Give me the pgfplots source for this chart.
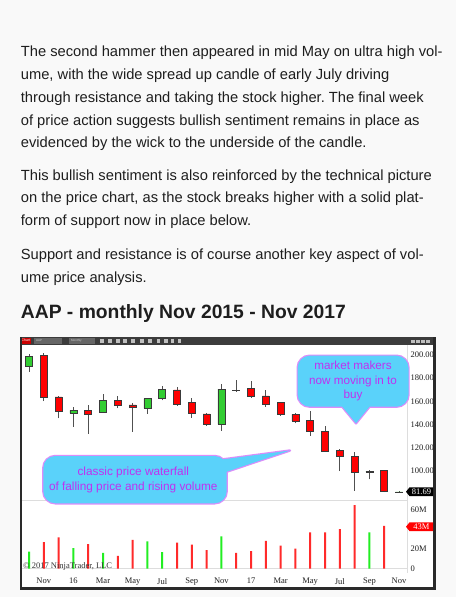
\documentclass[border=0pt]{standalone}
\usepackage{pgfplots}
\pgfplotsset{compat=1.18}
\usepackage{pgfplotstable}
\usepackage{fontspec}
\setmainfont{Liberation Sans}
\newfontfamily\serif{Liberation Serif}
\frenchspacing
\definecolor{pagebg}{HTML}{F9F9F9}
\definecolor{txt}{HTML}{1E1E1E}
\definecolor{candred}{HTML}{FF0000}
\definecolor{candgreen}{HTML}{32CD32}
\definecolor{candedge}{HTML}{3A3A3A}
\definecolor{wick}{HTML}{505050}
\definecolor{volred}{HTML}{FF2A2A}
\definecolor{volgreen}{HTML}{22EE22}
\definecolor{callfill}{HTML}{5AD2FA}
\definecolor{calledge}{HTML}{DC8CFA}
\definecolor{calltext}{HTML}{C030F0}
\definecolor{toolbar}{HTML}{3C3C3C}
\definecolor{framec}{HTML}{2A2A2A}
\definecolor{gridgray}{HTML}{DDDDDD}

% monthly candles, x = month index (0 = Oct 2015 ... 25 = Nov 2017)
\pgfplotstableread{
x o h l c
0 190.5 200.6 185.6 199.1
1 199.4 201.4 160.2 163.1
2 163.7 164.6 145.3 151.0
3 149.6 155.1 138.0 152.2
4 152.2 156.5 132.0 148.7
5 150.1 166.0 150.0 160.8
6 160.8 164.6 153.9 156.2
7 156.8 158.2 133.7 154.5
8 153.9 162.5 149.0 162.2
9 162.6 173.2 160.8 170.4
10 169.8 172.3 156.2 157.0
11 158.8 162.8 145.8 149.3
12 149.0 149.9 139.0 140.4
13 140.1 174.7 134.6 170.4
14 169.4 178.4 168.3 169.0
15 171.2 177.8 163.1 164.6
16 164.6 169.8 155.4 157.4
17 159.1 159.5 147.3 148.7
18 148.7 149.9 141.0 143.0
19 143.5 151.6 130.0 134.3
20 134.3 138.6 116.4 117.0
21 117.9 119.0 99.7 112.7
22 112.1 115.9 82.7 98.8
23 99.0 101.0 92.5 99.5
24 100.5 100.8 81.5 82.0
25 81.5 82.5 81.0 81.69
}\candles

\pgfplotstableread{
x v
1 27
2 32
4 25
6 13
7 29.5
10 26.6
11 24.5
12 19
14 16
15 18
16 28.5
17 23.5
18 20.4
19 37
20 37
21 40.5
22 65
24 43.8
}\redvol

\pgfplotstableread{
x v
0 17.5
3 21
5 16
8 28
9 17
13 33
23 37
}\greenvol

\pgfplotsset{
  chartgeom/.style={
    anchor=north west, width=385pt, scale only axis,
    xmin=-0.473, xmax=25.54,
    axis line style={draw=none}, major tick length=0pt,
    /pgf/number format/assume math mode=true,
    ticklabel style={font=\serif\fontsize{8.5}{9}\selectfont, text=txt},
  },
}

\begin{document}
\begin{tikzpicture}
\useasboundingbox (0,0) rectangle (456pt,-597pt);
\fill[pagebg] (0,0) rectangle (456pt,-597pt);

% ---- article text ----
\begin{scope}[every node/.style={anchor=base west, inner sep=0pt, text=txt, font=\fontsize{14.7}{15}\selectfont}]
\node at (20.7pt,-56.7pt) {The second hammer then appeared in mid May on ultra high vol-};
\node at (20.7pt,-79.5pt) {ume, with the wide spread up candle of early July driving};
\node at (20.7pt,-102.3pt) {through resistance and taking the stock higher. The final week};
\node at (20.7pt,-125.1pt) {of price action suggests bullish sentiment remains in place as};
\node at (20.7pt,-147.9pt) {evidenced by the wick to the underside of the candle.};
\node at (20.7pt,-180pt) {This bullish sentiment is also reinforced by the technical picture};
\node at (20.7pt,-202.8pt) {on the price chart, as the stock breaks higher with a solid plat-};
\node at (20.7pt,-225.6pt) {form of support now in place below.};
\node at (20.7pt,-259.5pt) {Support and resistance is of course another key aspect of vol-};
\node at (20.7pt,-282.3pt) {ume price analysis.};
\end{scope}
\node[anchor=base west, inner sep=0pt, text=txt, font=\bfseries\fontsize{19.3}{20}\selectfont] at (20.7pt,-318pt) {AAP - monthly Nov 2015 - Nov 2017};

% ---- chart frame ----
\fill[white] (21pt,-337pt) rectangle (434pt,-588pt);
\fill[toolbar] (20pt,-336.5pt) rectangle (436pt,-345pt);
\fill[red!80!black] (21pt,-337.5pt) rectangle (31pt,-343.5pt);
\node[font=\fontsize{3.5}{4}\selectfont, text=white, inner sep=0pt] at (26pt,-340.5pt) {Chart};
\fill[black!60] (34pt,-338pt) rectangle (62pt,-343.5pt);
\node[font=\fontsize{3}{4}\selectfont, text=white!80!black, inner sep=0pt, anchor=west] at (36pt,-340.7pt) {AAP};
\fill[black!60] (69pt,-338pt) rectangle (95pt,-343.5pt);
\node[font=\fontsize{3}{4}\selectfont, text=white!80!black, inner sep=0pt, anchor=west] at (71pt,-340.7pt) {Monthly};
\foreach \ix in {101.7,110,117.7,125,133,141.7,150,158.3,165.7,172.3,179.3}
  \fill[black!25] (\ix pt-1.8pt,-339pt) rectangle (\ix pt+1.8pt,-342.6pt);
\foreach \ix in {413,418,423,428}
  \fill[black!25] (\ix pt-1.8pt,-339.5pt) rectangle (\ix pt+1.8pt,-342.5pt);
\fill[framec] (20pt,-336.5pt) rectangle (22pt,-590pt);
\fill[framec] (433pt,-336.5pt) rectangle (436pt,-590pt);
\fill[framec] (20pt,-587pt) rectangle (436pt,-590pt);

\draw[gridgray, line width=0.8pt] (22pt,-500.7pt) -- (407pt,-500.7pt);
\draw[gridgray, line width=0.7pt] (22pt,-568.6pt) -- (407pt,-568.6pt);
\draw[gridgray, line width=0.7pt] (407pt,-345pt) -- (407pt,-573pt);

% ---- price panel: wicks ----
\begin{axis}[chartgeom, at={(22pt,-345pt)}, height=155.7pt,
  ymin=74.1, ymax=208.6, xtick=\empty,
  ytick={100,120,...,200}, yticklabel pos=right,
  yticklabel={\pgfmathprintnumber[fixed,fixed zerofill,precision=2]{\tick}}]
\addplot[draw=none, mark=none,
  error bars/.cd, y dir=plus, y explicit, error mark=none,
  error bar style={draw=wick, line width=0.9pt}]
  table[x=x, y=l, y error plus expr=\thisrow{h}-\thisrow{l}] {\candles};
\end{axis}
% ---- price panel: bodies ----
\begin{axis}[chartgeom, at={(22pt,-345pt)}, height=155.7pt,
  ymin=74.1, ymax=208.6, hide axis, ybar stacked, bar width=7pt]
\addplot[draw=none, fill=none] table[x=x, y expr={min(\thisrow{o},\thisrow{c})}] {\candles};
\addplot[fill=candred, draw=candedge, line width=0.7pt] table[x=x, y expr={max(\thisrow{o}-\thisrow{c},0)}] {\candles};
\addplot[fill=candgreen, draw=candedge, line width=0.7pt] table[x=x, y expr={max(\thisrow{c}-\thisrow{o},0)}] {\candles};
\end{axis}

% ---- volume panel ----
\begin{axis}[chartgeom, at={(22pt,-500.7pt)}, height=67.9pt,
  ymin=0, ymax=69.5, ybar, bar width=2pt,
  xtick={1,3,...,25},
  xticklabels={Nov,16,Mar,May,Jul,Sep,Nov,17,Mar,May,Jul,Sep,Nov},
  xticklabel style={yshift=-6pt},
  ytick={0,20,60}, yticklabels={0,20M,60M}, yticklabel pos=right]
\addplot[fill=volred, draw=none, bar shift=0pt] table[x=x, y=v] {\redvol};
\addplot[fill=volgreen, draw=none, bar shift=0pt] table[x=x, y=v] {\greenvol};
\end{axis}

% ---- last price and volume flags ----
\fill[black] (406pt,-491.7pt) -- (409.5pt,-487.3pt) -- (433pt,-487.3pt) -- (433pt,-496.1pt) -- (409.5pt,-496.1pt) -- cycle;
\node[font=\serif\fontsize{8.5}{9}\selectfont, text=white, inner sep=0pt] at (421.5pt,-491.9pt) {81.69};
\fill[red] (406pt,-526.7pt) -- (409.5pt,-522.3pt) -- (433pt,-522.3pt) -- (433pt,-531.1pt) -- (409.5pt,-531.1pt) -- cycle;
\node[font=\serif\fontsize{8.5}{9}\selectfont, text=white, inner sep=0pt] at (421.5pt,-526.9pt) {43M};

\node[anchor=west, inner sep=0pt, font=\serif\fontsize{8.5}{9}\selectfont, text=black!80] at (23pt,-566.8pt) {© 2017 NinjaTrader, LLC};

% ---- callouts ----
\filldraw[fill=callfill, draw=calledge, line width=2.4pt, line join=round]
  (340pt,-404pt) -- (356pt,-423.3pt) -- (371.7pt,-404pt) -- cycle;
\filldraw[fill=callfill, draw=calledge, line width=2.4pt, rounded corners=12pt]
  (297.7pt,-355.7pt) rectangle (408.5pt,-406.7pt);
\fill[callfill] (340pt,-404pt) -- (356pt,-423.3pt) -- (371.7pt,-404pt) -- cycle;
\fill[callfill, rounded corners=12pt] (297.7pt,-355.7pt) rectangle (408.5pt,-406.7pt);
\node[align=center, text=calltext, font=\fontsize{11.7}{14.5}\selectfont, inner sep=0pt] at (353pt,-381.3pt) {market makers\\now moving in to\\buy};

\filldraw[fill=callfill, draw=calledge, line width=2.4pt, line join=round]
  (212pt,-460.8pt) -- (290pt,-450.5pt) -- (218pt,-474.6pt) -- cycle;
\filldraw[fill=callfill, draw=calledge, line width=2.4pt, rounded corners=12pt]
  (43.3pt,-456pt) rectangle (226.7pt,-503.3pt);
\fill[callfill] (212pt,-460.8pt) -- (290pt,-450.5pt) -- (218pt,-474.6pt) -- cycle;
\fill[callfill, rounded corners=12pt] (43.3pt,-456pt) rectangle (226.7pt,-503.3pt);
\node[align=center, text=calltext, font=\fontsize{11.8}{14.6}\selectfont, inner sep=0pt] at (133.3pt,-480pt) {classic price waterfall\\of falling price and rising volume};
\end{tikzpicture}
\end{document}
